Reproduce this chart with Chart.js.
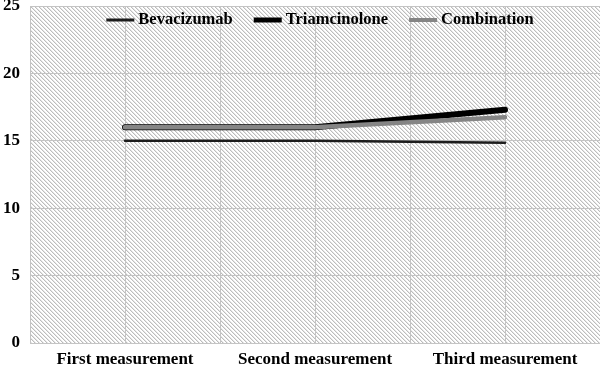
<!DOCTYPE html>
<html>
<head>
<meta charset="utf-8">
<script src="https://cdn.jsdelivr.net/npm/chart.js@4/dist/chart.umd.min.js"></script>
<style>
  html, body { margin: 0; padding: 0; background: #fff; }
  #wrap { width: 600px; height: 368px; }
</style>
</head>
<body>
<div id="wrap"><canvas id="grafico"></canvas></div>
<script>
const categories = ['First measurement', 'Second measurement', 'Third measurement'];
const bevacizumab = [15, 15, 14.85];
const triamcinolone = [16, 16, 17.3];
const combination = [16, 16, 16.75];
const yTicks = [0, 5, 10, 15, 20, 25];

const serif = '"Liberation Serif", "Times New Roman", serif';

// diagonal hatch used as plot background
function makeHatch() {
    const c = document.createElement('canvas');
    c.width = 4;
    c.height = 4;
    const g = c.getContext('2d');
    g.fillStyle = '#ffffff';
    g.fillRect(0, 0, 4, 4);
    for (let i = 0; i < 4; i++) {
        g.fillStyle = '#bcbcbc';
        g.fillRect(i, i, 1, 1);
        g.fillStyle = '#e6e6e6';
        g.fillRect((i + 1) % 4, i, 1, 1);
    }
    return g.createPattern(c, 'repeat');
}

const hatchBg = {
    id: 'hatchBg',
    beforeDraw(chart) {
        const a = chart.chartArea;
        const ctx = chart.ctx;
        ctx.save();
        ctx.fillStyle = makeHatch();
        ctx.fillRect(a.left, a.top, a.right - a.left, a.bottom - a.top);
        ctx.restore();
    }
};

// legend drawn inside the plot area, along its top
const innerLegend = {
    id: 'innerLegend',
    afterDatasetsDraw(chart) {
        const a = chart.chartArea;
        const ctx = chart.ctx;
        const sets = chart.data.datasets;
        const lineLen = 28, gap = 4, itemGap = 21;
        ctx.save();
        ctx.font = 'bold 16.5px ' + serif;
        const widths = sets.map(d => lineLen + gap + ctx.measureText(d.label).width);
        const total = widths.reduce((s, w) => s + w, 0) + itemGap * (sets.length - 1);
        let x = (a.left + a.right) / 2 + 5 - total / 2;
        const y = a.top + 14;
        sets.forEach((d, i) => {
            ctx.strokeStyle = d.borderColor;
            ctx.lineWidth = d.legendWidth;
            ctx.beginPath();
            ctx.moveTo(x, y);
            ctx.lineTo(x + lineLen, y);
            ctx.stroke();
            ctx.fillStyle = '#000';
            ctx.textBaseline = 'middle';
            ctx.fillText(d.label, x + lineLen + gap, y);
            x += widths[i] + itemGap;
        });
        ctx.restore();
    }
};

const ctx = document.getElementById('grafico');

const data = {
    labels: categories,
    datasets: [{
        label: 'Bevacizumab',
        data: bevacizumab,
        borderColor: '#1c1c1c',
        borderWidth: 2.5,
        legendWidth: 3,
        order: 2
    }, {
        label: 'Triamcinolone',
        data: triamcinolone,
        borderColor: '#000000',
        borderWidth: 6,
        legendWidth: 5,
        order: 1
    }, {
        label: 'Combination',
        data: combination,
        borderColor: '#858585',
        borderWidth: 4.5,
        legendWidth: 4,
        order: 0
    }]
};

const options = {
    responsive: true,
    maintainAspectRatio: false,
    animation: false,
    layout: { padding: { top: 6, right: 0, left: 0, bottom: 0 } },
    elements: {
        point: { radius: 0, hoverRadius: 0 },
        line: { tension: 0, borderCapStyle: 'round' }
    },
    scales: {
        x: {
            offset: true,
            grid: { offset: false, color: '#c4c4c4', drawTicks: false },
            border: { display: false },
            ticks: {
                color: '#000',
                padding: 6,
                font: { family: serif, size: 17, weight: 'bold' }
            },
            afterFit(scale) {
                scale.height = 25;
                scale.paddingLeft = 0;
                scale.paddingRight = 0;
            }
        },
        xEdges: {
            type: 'category',
            labels: categories,
            offset: true,
            position: 'bottom',
            grid: { offset: true, color: '#c4c4c4', drawTicks: false },
            border: { display: false },
            ticks: { display: false },
            afterFit(scale) { scale.height = 0; }
        },
        y: {
            min: 0,
            max: 25,
            afterBuildTicks(scale) { scale.ticks = yTicks.map(v => ({ value: v })); },
            grid: { color: '#c4c4c4', drawTicks: false },
            border: { display: false },
            ticks: {
                color: '#000',
                padding: 10,
                font: { family: serif, size: 17, weight: 'bold', lineHeight: 1 }
            },
            afterFit(scale) {
                scale.width = 30;
                scale.paddingTop = 0;
                scale.paddingBottom = 0;
            }
        }
    },
    plugins: {
        legend: { display: false },
        tooltip: { enabled: false }
    }
};

const myChart = new Chart(ctx, {
    type: 'line',
    data: data,
    options: options,
    plugins: [hatchBg, innerLegend]
});
</script>
</body>
</html>
